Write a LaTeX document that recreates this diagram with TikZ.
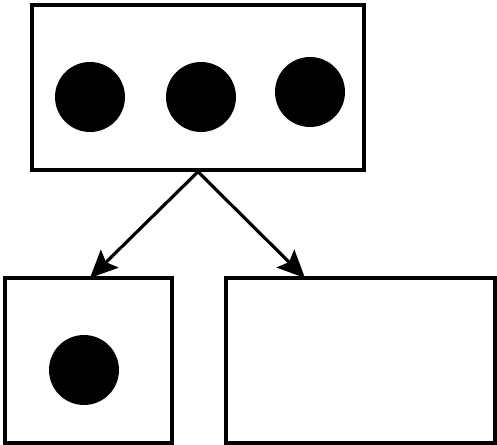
\documentclass[tikz,border=0pt]{standalone}
\usetikzlibrary{arrows.meta}
\tikzstyle{box} = [rectangle, draw=black, line width=2pt, inner sep=0pt, minimum height=3.3cm]
\tikzstyle{dot} = [circle, fill=black, inner sep=0pt, minimum size=1.4cm]
\tikzstyle{arrow} = [line width=1.8pt,-{Stealth[length=5.5mm,width=5mm,inset=1mm]}]

\begin{document}
\begin{tikzpicture}[x=0.02cm,y=-0.02cm]
    \useasboundingbox (0,0) rectangle (497,445);
    \node (top)[box, minimum width=6.64cm] at (198,87.5) {};
    \node (d1)[dot] at (90,97) {};
    \node (d2)[dot] at (201,97) {};
    \node (d3)[dot] at (310,92) {};
    \node (lbox)[box, minimum width=3.34cm] at (88.5,360.5) {};
    \node (rbox)[box, minimum width=5.38cm] at (360.5,360.5) {};
    \node (d4)[dot] at (84,370) {};
    \coordinate (lin) at (90,278);
    \coordinate (rin) at (305,278);
    \draw[arrow] (top.south)--(lin);
    \draw[arrow] (top.south)--(rin);
\end{tikzpicture}
\end{document}
